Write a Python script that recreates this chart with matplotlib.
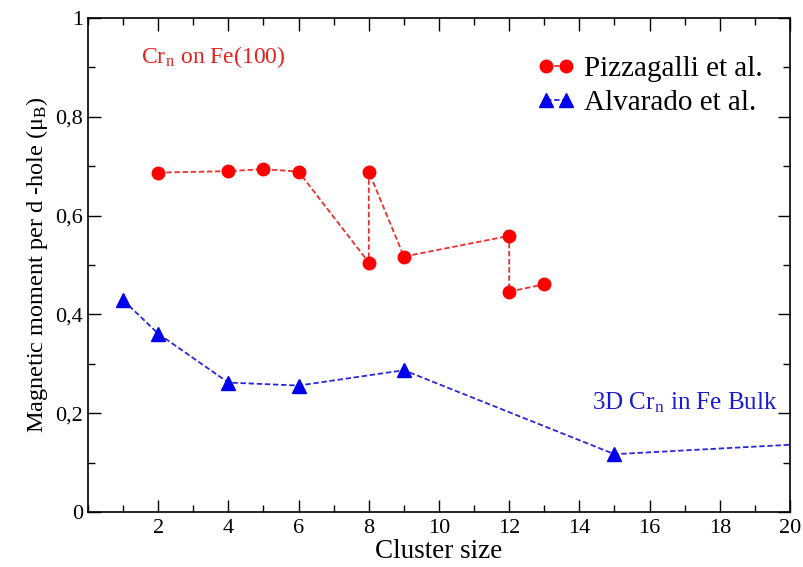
import matplotlib
matplotlib.use("Agg")
import matplotlib.pyplot as plt
from matplotlib.ticker import MultipleLocator, FixedLocator

plt.rcParams['font.family'] = ['Liberation Serif', 'DejaVu Serif']
plt.rcParams['mathtext.fontset'] = 'stix'

# Pizzagalli et al. (Cr_n on Fe(100))
piz_x = [2, 4, 5, 6, 8, 8, 9, 12, 12, 13]
piz_y = [0.687, 0.690, 0.694, 0.689, 0.505, 0.689, 0.517, 0.559, 0.446, 0.461]

# Alvarado et al. (3D Cr_n in Fe bulk)
alv_x = [1, 2, 4, 6, 9, 15, 27]
alv_y = [0.429, 0.361, 0.262, 0.256, 0.287, 0.117, 0.163]

x_ticks = [2, 4, 6, 8, 10, 12, 14, 16, 18, 20]
y_ticks = [0, 0.2, 0.4, 0.6, 0.8, 1.0]
y_tick_labels = ['0', '0,2', '0,4', '0,6', '0,8', '1']

fig = plt.figure(figsize=(8.04, 5.67), dpi=100)
ax = fig.add_axes([88/804, 1 - 512/567, (790-88)/804, (512-18)/567])

red = '#ff0000'
blue = '#0000ee'
ax.plot(piz_x, piz_y, linestyle=(0, (3, 1.5)), color='#e83030', lw=1.3,
        marker='o', ms=9, mfc=red, mec=red, label='Pizzagalli et al.')
ax.plot(alv_x, alv_y, linestyle=(0, (3, 1.5)), color='#2828d8', lw=1.3,
        marker='^', ms=10, mfc=blue, mec=blue, label='Alvarado et al.')

ax.set_xlim(0, 20)
ax.set_ylim(0, 1)
ax.xaxis.set_major_locator(FixedLocator(x_ticks))
ax.xaxis.set_minor_locator(MultipleLocator(1))
ax.yaxis.set_major_locator(FixedLocator(y_ticks))
ax.yaxis.set_minor_locator(MultipleLocator(0.1))
ax.set_yticklabels(y_tick_labels)
ax.tick_params(which='both', direction='in', top=True, right=True, labelsize=16)
ax.tick_params(which='major', length=9, width=1)
ax.tick_params(which='minor', length=5, width=1)
ax.tick_params(axis='x', pad=5)
for s in ax.spines.values():
    s.set_linewidth(1.2)

ax.set_xlabel('Cluster size', fontsize=19.5, labelpad=1)
ax.set_ylabel(r'Magnetic moment per d -hole ($\mathregular{\mu_B}$)', fontsize=17.5, labelpad=4)

ax.text(1.5, 0.92, r'Cr$_\mathregular{n}$ on Fe(100)', color='#e82020', fontsize=17,
        ha='left', va='center')
ax.text(19.65, 0.22, r'3D Cr$_\mathregular{n}$ in Fe Bulk', color='#1a1ad0', fontsize=18,
        ha='right', va='center')

leg = ax.legend(loc='upper right', bbox_to_anchor=(0.99, 0.965), frameon=False,
                fontsize=21, numpoints=2, handlelength=1.3, handletextpad=0.3,
                labelspacing=0.25, borderaxespad=0.3)

fig.savefig('out.png', dpi=100)
